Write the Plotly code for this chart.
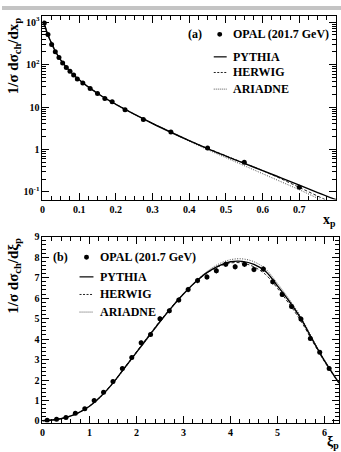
import plotly.graph_objects as go

# ---------------- data: panel (a) ----------------
xp_data = [0.005, 0.015, 0.025, 0.035, 0.045, 0.055, 0.065, 0.075, 0.085, 0.095,
           0.11, 0.13, 0.15, 0.17, 0.19, 0.225, 0.275, 0.35, 0.45, 0.55, 0.70]
xp_vals = [960, 515, 298, 201, 147, 109, 86, 70, 57, 46,
           37, 27.5, 21, 16, 13.4, 8.6, 5.1, 2.6, 1.08, 0.50, 0.13]

xp_curve = [0.004, 0.01, 0.015, 0.02, 0.03, 0.04, 0.05, 0.06, 0.07, 0.08, 0.09, 0.10,
            0.12, 0.14, 0.16, 0.18, 0.20, 0.25, 0.30, 0.35, 0.40, 0.45, 0.50, 0.55,
            0.60, 0.65, 0.70, 0.75, 0.80]
xp_pythia = [1000, 650, 500, 390, 250, 175, 128, 98, 78, 63, 52, 44,
             32, 24, 18.5, 14.5, 11.6, 6.8, 4.1, 2.55, 1.62, 1.05, 0.70, 0.47,
             0.32, 0.215, 0.145, 0.097, 0.066]
xp_herwig = [1000, 650, 500, 390, 250, 175, 128, 98, 78, 63, 52, 44,
             32, 24, 18.5, 14.5, 11.6, 6.8, 4.1, 2.55, 1.62, 1.06, 0.71, 0.475,
             0.32, 0.205, 0.128, 0.080, 0.050]
xp_ariadne = [1000, 650, 500, 390, 250, 175, 128, 98, 78, 63, 52, 44,
              32, 24, 18.5, 14.5, 11.6, 6.8, 4.1, 2.50, 1.56, 0.99, 0.64, 0.42,
              0.275, 0.178, 0.113, 0.071, 0.045]
xp_ticks = [0, 0.1, 0.2, 0.3, 0.4, 0.5, 0.6, 0.7, 0.8]
xp_ticklabels = ["0", "0.1", "0.2", "0.3", "0.4", "0.5", "0.6", "0.7", "0.8"]
log_ticks = [0.1, 1, 10, 100, 1000]
log_ticklabels = ["10<sup>-1</sup>", "1", "10", "10<sup>2</sup>", "10<sup>3</sup>"]

# ---------------- data: panel (b) ----------------
xi_data = [0.1, 0.3, 0.5, 0.7, 0.9, 1.1, 1.3, 1.5, 1.7, 1.9, 2.1, 2.3, 2.5, 2.7, 2.9,
           3.1, 3.3, 3.5, 3.7, 3.9, 4.1, 4.3, 4.5, 4.7, 4.9, 5.1, 5.3, 5.5, 5.7, 5.9, 6.1]
xi_vals = [0.03, 0.08, 0.17, 0.38, 0.59, 1.00, 1.40, 1.93, 2.56, 3.10, 3.82, 4.22, 5.00, 5.38, 5.91,
           6.42, 6.86, 7.04, 7.34, 7.66, 7.53, 7.66, 7.40, 7.42, 6.80, 6.18, 5.59, 4.98, 4.03, 3.36, 2.56]
xi_errs = [0.02, 0.02, 0.03, 0.04, 0.05, 0.06, 0.07, 0.08, 0.09, 0.10, 0.11, 0.11, 0.12, 0.12, 0.12,
           0.13, 0.13, 0.13, 0.13, 0.13, 0.13, 0.13, 0.13, 0.13, 0.13, 0.12, 0.12, 0.12, 0.11, 0.10, 0.09]

xi_curve = [0.0, 0.25, 0.5, 0.75, 1.0, 1.25, 1.5, 1.75, 2.0, 2.25, 2.5, 2.75, 3.0, 3.25,
            3.5, 3.75, 4.0, 4.25, 4.5, 4.75, 5.0, 5.25, 5.5, 5.75, 6.0, 6.31]
xi_pythia = [0.01, 0.06, 0.17, 0.38, 0.72, 1.22, 1.85, 2.60, 3.35, 4.10, 4.85, 5.55, 6.20, 6.78,
             7.25, 7.58, 7.78, 7.80, 7.65, 7.30, 6.60, 5.85, 5.00, 3.95, 2.95, 1.85]
xi_herwig = [0.01, 0.06, 0.17, 0.38, 0.73, 1.23, 1.87, 2.62, 3.38, 4.13, 4.88, 5.58, 6.22, 6.78,
             7.23, 7.55, 7.72, 7.72, 7.53, 7.15, 6.48, 5.72, 4.88, 3.88, 2.90, 1.85]
xi_ariadne = [0.01, 0.06, 0.17, 0.37, 0.71, 1.20, 1.83, 2.57, 3.33, 4.08, 4.83, 5.53, 6.20, 6.80,
              7.30, 7.67, 7.88, 7.92, 7.78, 7.42, 6.72, 5.95, 5.08, 4.00, 2.98, 1.87]
xi_ticks = [0, 1, 2, 3, 4, 5, 6]
lin_ticks = [0, 1, 2, 3, 4, 5, 6, 7, 8, 9]

W, H = 341, 452
FONT = "Liberation Serif, Times New Roman, DejaVu Serif, serif"


def px(x):
    return x / W


def py(y):
    return 1 - y / H


def b(s):
    return "<b>" + s + "</b>"


fig = go.Figure()

# panel (a)
fig.add_trace(go.Scatter(x=xp_curve, y=xp_ariadne, mode="lines",
                         line=dict(color="#444", width=1, dash="1px,1.5px"), xaxis="x", yaxis="y"))
fig.add_trace(go.Scatter(x=xp_curve, y=xp_herwig, mode="lines",
                         line=dict(color="#222", width=1, dash="3px,2px"), xaxis="x", yaxis="y"))
fig.add_trace(go.Scatter(x=xp_curve, y=xp_pythia, mode="lines", line_shape="spline",
                         line=dict(color="black", width=1.4), xaxis="x", yaxis="y"))
fig.add_trace(go.Scatter(x=xp_data, y=xp_vals, mode="markers",
                         marker=dict(color="black", size=5), xaxis="x", yaxis="y"))

# panel (b)
fig.add_trace(go.Scatter(x=xi_curve, y=xi_ariadne, mode="lines", line_shape="spline",
                         line=dict(color="#444", width=1, dash="1px,1.5px"), xaxis="x2", yaxis="y2"))
fig.add_trace(go.Scatter(x=xi_curve, y=xi_herwig, mode="lines", line_shape="spline",
                         line=dict(color="#222", width=1, dash="3px,2px"), xaxis="x2", yaxis="y2"))
fig.add_trace(go.Scatter(x=xi_curve, y=xi_pythia, mode="lines", line_shape="spline",
                         line=dict(color="black", width=1.4), xaxis="x2", yaxis="y2"))
fig.add_trace(go.Scatter(x=xi_data, y=xi_vals, mode="markers",
                         error_y=dict(type="data", array=xi_errs, width=0, thickness=1, color="black"),
                         marker=dict(color="black", size=5), xaxis="x2", yaxis="y2"))

tickfont = dict(family=FONT, size=10, color="black")
common = dict(showline=True, linecolor="black", linewidth=1, mirror="ticks",
              ticks="inside", ticklen=7, tickwidth=1, tickcolor="black",
              showgrid=False, zeroline=False, tickfont=tickfont)

fig.update_layout(
    width=W, height=H, margin=dict(l=0, r=0, t=0, b=0),
    paper_bgcolor="white", plot_bgcolor="white", showlegend=False,
    xaxis=dict(domain=[px(40.7), px(336)], anchor="y", range=[0, 0.8],
               tickvals=xp_ticks, ticktext=[b(t) for t in xp_ticklabels],
               minor=dict(dtick=0.025, ticklen=4, ticks="inside", tickcolor="black"),
               **common),
    yaxis=dict(domain=[py(198), py(10)], anchor="x", type="log", range=[-1.18, 3.15],
               tickvals=log_ticks, ticktext=[b(t) for t in log_ticklabels],
               minor=dict(tickvals=[v * m for v in log_ticks for m in range(2, 10)],
                          ticklen=4, ticks="inside", tickcolor="black"),
               **common),
    xaxis2=dict(domain=[px(40.7), px(339)], anchor="y2", range=[0, 6.31],
                tickvals=xi_ticks, ticktext=[b(str(t)) for t in xi_ticks],
                minor=dict(dtick=0.2, ticklen=4, ticks="inside", tickcolor="black"),
                **common),
    yaxis2=dict(domain=[py(426), py(236)], anchor="x2", range=[-0.08, 9.0],
                tickvals=lin_ticks, ticktext=[b(str(t)) for t in lin_ticks],
                minor=dict(dtick=0.2, ticklen=4, ticks="inside", tickcolor="black"),
                **common),
)

annfont = dict(family=FONT, size=12, color="black")
titlefont = dict(family=FONT, size=15, color="black")
anns = []
shapes = []

# panel (a) legend
anns.append(dict(x=px(194), y=py(29), text=b("(a)"), showarrow=False, font=annfont,
                 xref="paper", yref="paper", xanchor="center", yanchor="middle"))
shapes.append(dict(type="circle", xref="paper", yref="paper",
                   x0=px(216.5), x1=px(221.5), y0=py(31.5), y1=py(26.5),
                   fillcolor="black", line=dict(width=0)))
anns.append(dict(x=px(230), y=py(29), text=b("OPAL (201.7 GeV)"), showarrow=False, font=annfont,
                 xref="paper", yref="paper", xanchor="left", yanchor="middle"))
legend_rows = [("PYTHIA", "solid", 1.2, "black"),
               ("HERWIG", "2px,1.5px", 1, "#222"),
               ("ARIADNE", "1px,1px", 1, "#555")]
for yy, (name, dash, w, c) in zip([52, 68, 85], legend_rows):
    shapes.append(dict(type="line", xref="paper", yref="paper", x0=px(213), x1=px(226),
                       y0=py(yy), y1=py(yy), line=dict(color=c, width=w, dash=dash)))
    anns.append(dict(x=px(230), y=py(yy), text=b(name), showarrow=False, font=annfont,
                     xref="paper", yref="paper", xanchor="left", yanchor="middle"))

# panel (b) legend
anns.append(dict(x=px(59), y=py(257), text=b("(b)"), showarrow=False, font=annfont,
                 xref="paper", yref="paper", xanchor="center", yanchor="middle"))
shapes.append(dict(type="circle", xref="paper", yref="paper",
                   x0=px(82.5), x1=px(87.5), y0=py(259.5), y1=py(254.5),
                   fillcolor="black", line=dict(width=0)))
anns.append(dict(x=px(97), y=py(257), text=b("OPAL (201.7 GeV)"), showarrow=False, font=annfont,
                 xref="paper", yref="paper", xanchor="left", yanchor="middle"))
for yy, (name, dash, w, c) in zip([277, 295, 313], legend_rows):
    shapes.append(dict(type="line", xref="paper", yref="paper", x0=px(78), x1=px(92),
                       y0=py(yy), y1=py(yy), line=dict(color=c, width=w, dash=dash)))
    anns.append(dict(x=px(97), y=py(yy), text=b(name), showarrow=False, font=annfont,
                     xref="paper", yref="paper", xanchor="left", yanchor="middle"))

# axis titles
anns.append(dict(x=px(12), y=py(9), text=b("1/σ dσ<sub>ch</sub>/dx<sub>p</sub>"), textangle=-90,
                 showarrow=False, font=titlefont, xref="paper", yref="paper",
                 xanchor="center", yanchor="top"))
anns.append(dict(x=px(12), y=py(235), text=b("1/σ dσ<sub>ch</sub>/dξ<sub>p</sub>"), textangle=-90,
                 showarrow=False, font=titlefont, xref="paper", yref="paper",
                 xanchor="center", yanchor="top"))
anns.append(dict(x=px(338), y=py(219), text=b("x<sub>p</sub>"), showarrow=False,
                 font=dict(family=FONT, size=14, color="black"),
                 xref="paper", yref="paper", xanchor="right", yanchor="middle"))
anns.append(dict(x=px(341), y=py(446), text=b("ξ<sub>p</sub>"), showarrow=False,
                 font=dict(family=FONT, size=14, color="black"),
                 xref="paper", yref="paper", xanchor="right", yanchor="middle"))

# scanned-page grey band at top
shapes.append(dict(type="rect", xref="paper", yref="paper", x0=0, x1=1, y0=py(4), y1=1,
                   fillcolor="#c4c4c4", line=dict(width=0), layer="below"))

fig.update_layout(annotations=anns, shapes=shapes)
fig.write_html("out.html")
